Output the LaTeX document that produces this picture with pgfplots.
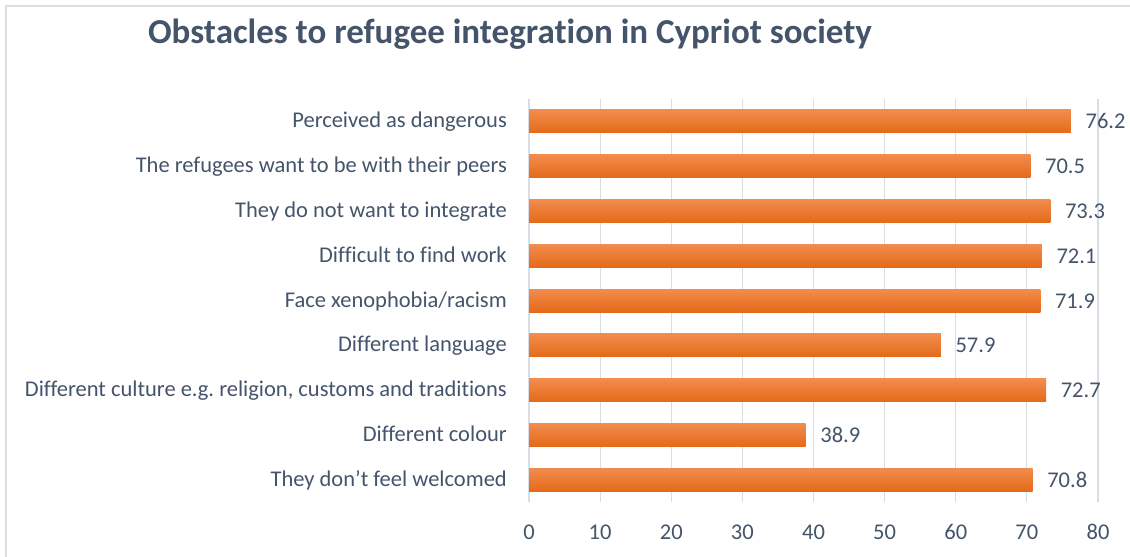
\documentclass[border=0pt]{standalone}
\usepackage{fontspec}
\setmainfont{Carlito}[Ligatures=NoCommon]
\usepackage{pgfplots}
\pgfplotsset{compat=1.18}
\definecolor{txt}{RGB}{68,84,106}
\definecolor{gridc}{RGB}{217,222,230}
\definecolor{framec}{RGB}{217,222,230}
\definecolor{bartop}{RGB}{242,140,78}
\definecolor{barbot}{RGB}{228,106,24}
\pgfplotsset{mybar/.style={xbar, draw=none, top color=bartop, bottom color=barbot, bar shift=0pt, bar width=23bp}}
\frenchspacing
\begin{document}
\begin{tikzpicture}
\clip (0,0) rectangle (1130bp,557bp);
\draw[framec, line width=1.5bp] (6bp,-20bp) -- (6bp,551bp) -- (1150bp,551bp);
\node[anchor=base, font=\bfseries\fontsize{35bp}{40bp}\selectfont, text=txt] at (510bp,513bp) {Obstacles to refugee integration in Cypriot society};
\begin{axis}[
  at={(529bp,55bp)}, anchor=south west,
  scale only axis, width=569bp, height=403bp,
  xbar, bar width=23bp,
  xmin=0, xmax=80, ymin=-0.5, ymax=8.5,
  xtick={0,10,...,80},
  ytick={0,1,2,3,4,5,6,7,8},
  yticklabels={They don’t feel welcomed, Different colour, {Different culture e.g. religion, customs and traditions}, Different language, Face xenophobia/racism, Difficult to find work, They do not want to integrate, The refugees want to be with their peers, Perceived as dangerous},
  axis line style={draw=none},
  major tick length=0pt,
  xmajorgrids, grid style={gridc, line width=1.2bp},
  /pgf/number format/assume math mode=true,
  tick label style={font=\fontsize{22.5bp}{27bp}\selectfont, text=txt, inner sep=0pt},
  xticklabel style={anchor=base, yshift=-37bp},
  yticklabel style={anchor=base east, xshift=-22bp, yshift=-6.5bp},
  nodes near coords,
  point meta=x,
  every node near coord/.append style={font=\fontsize{22.5bp}{27bp}\selectfont, text=txt, anchor=base west, inner sep=0pt, xshift=14.5bp, yshift=-7.5bp, /pgf/number format/fixed, /pgf/number format/precision=1, /pgf/number format/fixed zerofill},
]
\addplot[mybar] coordinates {(70.8,0)};
\addplot[mybar] coordinates {(38.9,1)};
\addplot[mybar] coordinates {(72.7,2)};
\addplot[mybar] coordinates {(57.9,3)};
\addplot[mybar] coordinates {(71.9,4)};
\addplot[mybar] coordinates {(72.1,5)};
\addplot[mybar] coordinates {(73.3,6)};
\addplot[mybar] coordinates {(70.5,7)};
\addplot[mybar] coordinates {(76.2,8)};
\end{axis}
\end{tikzpicture}
\end{document}
